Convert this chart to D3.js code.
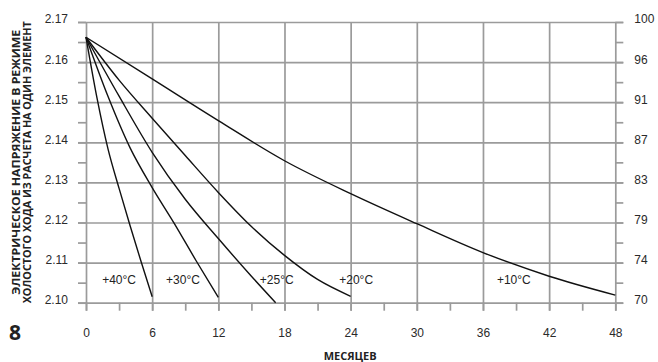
<!DOCTYPE html>
<html>
<head>
<meta charset="utf-8">
<script src="https://cdn.jsdelivr.net/npm/d3@7"></script>
<style>
  body { margin: 0; background: #fff; }
  svg { display: block; font-family: "Liberation Sans", Arial, sans-serif; }
  .grid line { stroke: #9b9b9b; stroke-width: 1.7; }
  .axis line { stroke: #9b9b9b; stroke-width: 1.7; }
  .axis text { fill: #2a2a2a; font-size: 12px; }
  .curve { fill: none; stroke: #111; stroke-width: 1.4; }
</style>
</head>
<body>
<div id="chart"></div>
<script>
// tick values
const xTicks = [0, 3, 6, 9, 12, 15, 18, 21, 24, 27, 30, 33, 36, 39, 42, 45, 48];
const yMajor = [2.10, 2.11, 2.12, 2.13, 2.14, 2.15, 2.16, 2.17];
const rightLabels = ["70", "74", "79", "83", "87", "91", "96", "100"];

// curves, months -> volts per cell
const months40 = [0, 1, 2, 3, 4, 5, 6];
const volts40 = [2.1662, 2.1510, 2.1383, 2.1285, 2.1192, 2.1102, 2.1015];
const months30 = [0, 2, 4, 6, 8, 10, 12];
const volts30 = [2.1662, 2.1514, 2.1386, 2.1287, 2.1198, 2.1104, 2.1013];
const months25 = [0, 3, 6, 9, 12, 15, 17.2];
const volts25 = [2.1662, 2.1515, 2.1375, 2.1258, 2.1160, 2.1066, 2.1000];
const months20 = [0, 3, 6, 9, 12, 15, 18, 21, 24];
const volts20 = [2.1662, 2.1555, 2.1460, 2.1367, 2.1275, 2.1190, 2.1118, 2.1058, 2.1016];
const months10 = [0, 6, 12, 18, 24, 30, 36, 42, 48];
const volts10 = [2.1662, 2.1558, 2.1454, 2.1354, 2.1272, 2.1197, 2.1125, 2.1066, 2.1019];

const tempLabels = ["+40°C", "+30°C", "+25°C", "+20°C", "+10°C"];
const labelMonths = [3.0, 8.8, 17.3, 24.5, 38.8];
const labelVolt = 2.1057;

const width = 658, height = 362;
const svg = d3.select("#chart").append("svg")
  .attr("width", width)
  .attr("height", height);

const x = d3.scaleLinear().domain([0, 48]).range([86, 615.3]);
const y = d3.scaleLinear().domain([2.10, 2.17]).range([302.7, 22]);
const tick = 8;

const yMinor = d3.pairs(yMajor).map(([a, b]) => (a + b) / 2);
const yAll = yMajor.concat(yMinor);
const isMajor = v => yMajor.some(m => Math.abs(m - v) < 1e-6);
const fmt = d3.format(".2f");

// horizontal grid (runs out past the frame as the major ticks)
svg.append("g").attr("class", "grid")
  .attr("transform", `translate(${x(48) + tick},0)`)
  .call(d3.axisLeft(y).tickValues(yMajor).tickSize(x(48) - x(0) + 2 * tick).tickFormat(""))
  .call(g => g.select(".domain").remove());

// vertical grid every 6 months
svg.append("g").attr("class", "grid")
  .attr("transform", `translate(0,${y(2.10) + tick})`)
  .call(d3.axisBottom(x).tickValues(xTicks.filter(d => d % 6 === 0))
    .tickSize(-(y(2.10) - y(2.17) + tick)).tickFormat(""))
  .call(g => g.select(".domain").remove());

// left axis
svg.append("g").attr("class", "axis")
  .attr("transform", `translate(${x(0)},0)`)
  .call(d3.axisLeft(y).tickValues(yAll).tickSize(tick).tickPadding(10)
    .tickFormat(d => isMajor(d) ? fmt(d) : ""))
  .call(g => g.select(".domain").remove())
  .call(g => g.selectAll("text").attr("dy", "0.08em"));

// right axis
svg.append("g").attr("class", "axis")
  .attr("transform", `translate(${x(48)},0)`)
  .call(d3.axisRight(y).tickValues(yAll).tickSize(tick).tickPadding(11)
    .tickFormat(d => isMajor(d) ? rightLabels[yMajor.findIndex(m => Math.abs(m - d) < 1e-6)] : ""))
  .call(g => g.select(".domain").remove())
  .call(g => g.selectAll("text").attr("dy", "0.08em"));

// bottom axis
svg.append("g").attr("class", "axis")
  .attr("transform", `translate(0,${y(2.10)})`)
  .call(d3.axisBottom(x).tickValues(xTicks).tickSize(tick).tickPadding(18)
    .tickFormat(d => d % 6 === 0 ? d : ""))
  .call(g => g.select(".domain").remove());

// curves
const line = d3.line()
  .x(d => x(d[0]))
  .y(d => y(d[1]))
  .curve(d3.curveMonotoneX);

const curves = [
  d3.zip(months40, volts40),
  d3.zip(months30, volts30),
  d3.zip(months25, volts25),
  d3.zip(months20, volts20),
  d3.zip(months10, volts10)
];

svg.append("g").selectAll("path")
  .data(curves)
  .join("path")
  .attr("class", "curve")
  .attr("d", line);

// temperature labels
svg.append("g").selectAll("text")
  .data(tempLabels)
  .join("text")
  .attr("x", (d, i) => x(labelMonths[i]))
  .attr("y", y(labelVolt))
  .attr("dy", "0.35em")
  .attr("text-anchor", "middle")
  .style("font-size", "12px")
  .style("fill", "#222")
  .text(d => d);

// axis titles
const yTitle = svg.append("g")
  .style("font-family", "'Open Sans', 'DejaVu Sans', sans-serif")
  .style("font-weight", "bold")
  .style("font-size", "10.5px")
  .style("fill", "#222");

yTitle.append("text")
  .attr("transform", `translate(19.5,${(y(2.17) + y(2.10)) / 2}) rotate(-90)`)
  .attr("text-anchor", "middle")
  .attr("textLength", 265)
  .attr("lengthAdjust", "spacingAndGlyphs")
  .text("ЭЛЕКТРИЧЕСКОЕ НАПРЯЖЕНИЕ В РЕЖИМЕ");

yTitle.append("text")
  .attr("transform", `translate(30.7,${(y(2.17) + y(2.10)) / 2}) rotate(-90)`)
  .attr("text-anchor", "middle")
  .attr("textLength", 282)
  .attr("lengthAdjust", "spacingAndGlyphs")
  .text("ХОЛОСТОГО ХОДА ИЗ РАСЧЕТА НА ОДИН ЭЛЕМЕНТ");

yTitle.append("text")
  .attr("x", (x(0) + x(48)) / 2 - 0.5)
  .attr("y", 360)
  .attr("text-anchor", "middle")
  .attr("textLength", 53)
  .attr("lengthAdjust", "spacingAndGlyphs")
  .text("МЕСЯЦЕВ");

// page number
svg.append("text")
  .attr("x", 15)
  .attr("y", 340)
  .attr("text-anchor", "middle")
  .style("font-family", "'Open Sans', 'DejaVu Sans', sans-serif")
  .style("font-weight", "bold")
  .style("font-size", "21px")
  .style("fill", "#222")
  .text("8");
</script>
</body>
</html>
